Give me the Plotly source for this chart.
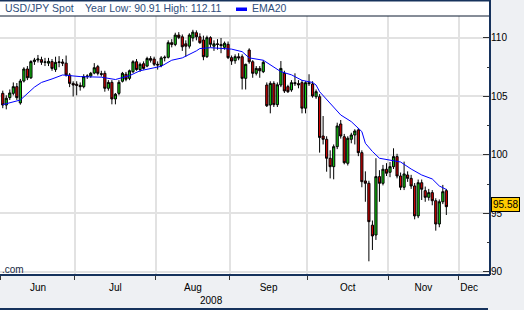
import plotly.graph_objects as go
import pandas as pd

# ---------------- data ----------------
calendar = pd.bdate_range("2008-06-02", "2008-12-31")   # weekday calendar

opens = [105.27, 104.27, 104.9, 105.27, 105.84, 104.45, 106.32, 107.35, 106.6, 107.98,
         108.12, 108.15, 107.92, 107.85, 107.98, 107.3, 107.9, 107.95, 107.85, 106.84,
         106.12, 106.05, 105.95, 105.84, 106.7, 106.75, 107.0, 107.55, 106.95, 106.98,
         105.7, 106.21, 104.79, 105.27, 106.3, 106.9, 106.55, 107.12, 107.97, 107.3,
         107.8, 107.6, 108.25, 108.2, 107.75, 107.65, 108.3, 108.35, 109.6, 109.45,
         110.25, 110.1, 109.5, 109.3, 110.0, 110.45, 110.1, 109.83, 108.4, 110.03,
         109.3, 109.5, 109.45, 109.2, 109.46, 108.32, 108.06, 108.4, 108.4, 106.55,
         108.97, 107.97, 106.98, 107.4, 107.12, 105.98, 104.27, 106.12, 104.3, 105.98,
         106.98, 105.84, 105.56, 106.18, 106.1, 106.18, 104.0, 106.18, 106.07, 104.98,
         104.98, 101.62, 101.34, 99.72, 99.0, 100.71, 102.65, 101.56, 99.29, 101.34,
         101.71, 102.14, 100.2, 97.78, 97.58, 94.0, 93.16, 98.15, 97.58, 98.78,
         98.52, 99.0, 99.86, 98.2, 97.24, 98.29, 98.0, 97.35, 94.79, 97.63,
         96.95, 96.38, 96.78, 96.09, 94.1, 96.0, 96.95]
highs = [105.5, 105.1, 105.6, 106.2, 106.15, 106.5, 107.5, 107.6, 108.1, 108.3,
         108.55, 108.4, 108.3, 108.3, 108.2, 108.4, 108.45, 108.2, 108.5, 107.0,
         106.3, 106.3, 106.2, 106.9, 106.9, 107.1, 107.85, 107.7, 107.2, 107.2,
         106.4, 106.4, 105.3, 106.4, 107.1, 107.1, 107.3, 108.1, 108.2, 107.9,
         108.0, 108.4, 108.45, 108.4, 108.0, 108.45, 108.5, 109.8, 109.9, 110.45,
         110.5, 110.3, 109.8, 110.4, 110.7, 110.65, 110.4, 110.2, 110.2, 110.15,
         109.8, 109.9, 110.0, 109.7, 109.7, 108.5, 108.6, 108.7, 108.6, 107.8,
         109.12, 108.1, 107.6, 107.6, 108.1, 106.2, 106.3, 106.3, 106.2, 108.03,
         107.2, 106.0, 106.4, 106.98, 106.4, 106.4, 106.3, 106.9, 106.3, 105.6,
         105.2, 103.33, 101.6, 100.4, 100.9, 102.76, 102.99, 101.8, 101.6, 101.9,
         102.2, 102.3, 100.4, 98.6, 97.8, 94.4, 99.72, 98.7, 99.15, 99.3,
         99.4, 100.57, 100.1, 98.5, 99.43, 98.6, 98.3, 97.6, 97.9, 97.9,
         97.3, 97.1, 97.0, 96.3, 96.2, 97.44, 97.1]
lows = [104.0, 103.9, 104.7, 105.1, 104.7, 104.3, 106.2, 106.4, 106.5, 107.7,
        107.9, 107.7, 107.6, 107.6, 107.2, 107.1, 107.5, 107.6, 106.7, 105.8,
        105.0, 105.1, 105.5, 105.7, 106.5, 106.6, 106.9, 106.8, 106.7, 105.41,
        105.5, 104.33, 104.33, 105.1, 106.2, 106.3, 106.4, 107.0, 107.2, 107.1,
        107.3, 107.5, 107.9, 107.6, 107.3, 107.5, 108.0, 108.25, 109.2, 109.3,
        109.9, 108.9, 108.4, 109.1, 109.7, 109.8, 109.5, 108.1, 108.3, 109.2,
        108.9, 109.0, 108.7, 109.0, 108.2, 107.7, 107.8, 108.1, 105.6, 105.6,
        107.8, 106.6, 106.8, 106.6, 107.0, 104.1, 103.56, 104.1, 104.1, 105.8,
        105.3, 105.3, 105.4, 105.9, 105.7, 103.56, 103.56, 105.9, 104.9, 104.8,
        100.2, 100.9, 98.57, 98.0, 97.92, 100.5, 101.4, 99.2, 99.1, 101.0,
        100.9, 99.9, 97.24, 96.0, 90.91, 91.88, 92.74, 96.0, 97.4, 98.2,
        98.1, 98.8, 98.0, 97.0, 97.0, 97.7, 97.1, 94.5, 94.6, 96.15,
        96.0, 96.1, 95.7, 93.53, 93.82, 95.8, 94.87]
closes = [104.27, 104.85, 105.3, 105.84, 104.9, 106.32, 107.35, 106.6, 107.98, 108.12,
          108.2, 107.92, 107.95, 108.0, 107.4, 107.92, 107.95, 107.85, 106.84, 106.12,
          105.98, 105.95, 105.84, 106.7, 106.75, 106.98, 107.46, 106.98, 106.9, 105.7,
          106.2, 104.79, 105.19, 106.21, 106.98, 106.47, 107.2, 107.97, 107.3, 107.75,
          107.4, 108.25, 108.1, 107.75, 107.7, 108.3, 108.35, 109.6, 109.45, 110.25,
          110.05, 109.25, 109.3, 110.25, 110.5, 110.1, 109.6, 108.4, 110.03, 109.46,
          109.5, 109.45, 109.35, 109.55, 108.32, 108.03, 108.4, 108.3, 106.55, 107.75,
          107.97, 106.98, 107.4, 107.2, 107.92, 104.21, 106.12, 104.3, 106.0, 107.4,
          105.47, 105.41, 106.18, 106.1, 106.0, 104.0, 106.18, 106.1, 105.04, 105.41,
          101.5, 101.34, 99.72, 99.0, 100.71, 102.48, 101.62, 99.34, 101.43, 101.71,
          102.05, 100.2, 97.72, 97.58, 94.3, 93.08, 98.15, 97.58, 98.78, 98.44,
          99.0, 99.86, 98.2, 97.24, 98.38, 98.0, 97.35, 94.79, 97.63, 97.07,
          96.38, 96.78, 96.09, 94.1, 96.0, 96.86, 95.58]

# EMA20 line at selected candles (candle index -> value)
ema_index = [0, 5, 9, 11, 14, 17, 22, 28, 32, 36, 39, 45, 48, 51, 55, 56, 59, 65, 68,
             70, 74, 76, 79, 82, 85, 88, 89, 90, 93, 96, 99, 102, 103, 105, 107, 110,
             113, 116, 119, 122, 124, 126]
ema_values = [104.3, 104.7, 105.8, 106.2, 106.5, 106.84, 106.7, 106.65, 106.45, 106.78,
              107.2, 107.58, 108.1, 108.3, 108.9, 109.1, 109.17, 109.05, 108.83, 108.3,
              108.1, 107.7, 107.12, 106.85, 106.38, 106.2, 105.98, 105.41, 104.4, 103.42,
              102.85, 102.0, 101.0, 100.3, 99.72, 99.57, 99.4, 98.8, 98.29, 97.95,
              97.35, 97.05]

month_names = ["Jun", "Jul", "Aug", "Sep", "Oct", "Nov", "Dec"]
year_label = "2008"
year_high = 112.11
last_price = closes[-1]

# ---------------- derived positions ----------------
n = len(closes)
dates = list(calendar[:n])
xi = list(range(n))
cal_months = [d.month for d in calendar]
month_first = [cal_months.index(m) for m in range(6, 13)]
boundaries = [b - 0.5 for b in month_first]
x_range = [-0.78, 138.4]
label_pos = []
for k, b in enumerate(boundaries):
    nxt = boundaries[k + 1] if k + 1 < len(boundaries) else x_range[1] - 3
    label_pos.append((max(b, x_range[0]) + nxt) / 2)

ema_x = [xi[i] for i in ema_index]

W, H = 524, 310
ML, MR, MT, MB = 0, 34, 16, 35
PW, PH = W - ML - MR, H - MT - MB

def py(px_from_top):
    """paper y for a pixel row measured from figure top"""
    return 1 - (px_from_top - MT) / PH

def pxx(px):
    return (px - ML) / PW

fig = go.Figure()

fig.add_trace(go.Candlestick(
    x=xi, open=opens, high=highs, low=lows, close=closes,
    increasing=dict(fillcolor="#10c810", line=dict(color="#000000", width=1)),
    decreasing=dict(fillcolor="#d20000", line=dict(color="#000000", width=1)),
    whiskerwidth=0, showlegend=False, hoverinfo="skip",
    text=[d.strftime("%Y-%m-%d") for d in dates],
))

fig.add_trace(go.Scatter(
    x=ema_x, y=ema_values, mode="lines",
    line=dict(color="#0000ff", width=1), showlegend=False, hoverinfo="skip",
))

navy = "#16325c"
shapes = [
    dict(type="rect", xref="paper", yref="paper", x0=0, x1=1, y0=1, y1=py(0),
         fillcolor="white", line=dict(width=0), layer="below"),
    dict(type="line", xref="paper", yref="paper", x0=0, x1=1, y0=py(0.5), y1=py(0.5),
         line=dict(color=navy, width=2)),
    dict(type="line", xref="paper", yref="paper", x0=0, x1=1, y0=1, y1=1,
         line=dict(color="#0d1a30", width=1)),
    dict(type="line", xref="paper", yref="paper", x0=1, x1=1, y0=0, y1=py(0),
         line=dict(color=navy, width=2)),
    dict(type="line", xref="paper", yref="paper", x0=0, x1=1, y0=0, y1=0,
         line=dict(color=navy, width=2)),
    dict(type="line", xref="paper", yref="paper", x0=0, x1=pxx(488), y0=py(309), y1=py(309),
         line=dict(color=navy, width=2)),
    dict(type="rect", xref="paper", yref="paper", x0=pxx(236), x1=pxx(247),
         y0=py(11), y1=py(7.5), fillcolor="#0000ff", line=dict(width=0)),
]

hdr_font = dict(family="Liberation Sans, Arial, sans-serif", size=10.5, color="#2e4d7b")
annotations = [
    dict(text="USD/JPY Spot", xref="paper", yref="paper", x=pxx(2.5), y=py(8.5),
         xanchor="left", yanchor="middle", showarrow=False, font=hdr_font),
    dict(text="Year Low: %.2f High: %.2f" % (min(lows), year_high), xref="paper", yref="paper",
         x=pxx(82.5), y=py(8.5), xanchor="left", yanchor="middle", showarrow=False, font=hdr_font),
    dict(text="EMA20", xref="paper", yref="paper", x=pxx(250), y=py(8.5),
         xanchor="left", yanchor="middle", showarrow=False, font=hdr_font),
    dict(text="%.2f" % last_price, xref="paper", yref="y", x=1.0, y=last_price,
         xanchor="left", yanchor="middle", showarrow=False,
         font=dict(family="Liberation Sans, Arial, sans-serif", size=10, color="#000000"),
         bgcolor="#ffcc00", bordercolor="#000000", borderwidth=1, borderpad=1, xshift=1, yshift=2),
    dict(text=year_label, xref="paper", yref="paper", x=pxx(211), y=py(300.5),
         xanchor="center", yanchor="middle", showarrow=False,
         font=dict(family="Liberation Sans, Arial, sans-serif", size=10, color="#000000")),
    dict(text=".com", xref="paper", yref="paper", x=0, y=py(269.5),
         xanchor="left", yanchor="middle", showarrow=False,
         font=dict(family="Liberation Sans, Arial, sans-serif", size=10, color="#1a2a44")),
]

fig.update_layout(
    width=W, height=H,
    margin=dict(l=ML, r=MR, t=MT, b=MB, pad=0),
    paper_bgcolor="#eef0f3", plot_bgcolor="#ffffff",
    shapes=shapes, annotations=annotations,
    showlegend=False, boxgap=0.12,
    font=dict(family="Liberation Sans, Arial, sans-serif", size=10, color="#000000"),
    xaxis=dict(
        type="linear", range=x_range, rangeslider=dict(visible=False),
        tickmode="array", tickvals=label_pos, ticktext=month_names,
        ticks="", showgrid=False, zeroline=False, showline=False,
        ticklabelstandoff=5,
        tickfont=dict(family="Liberation Sans, Arial, sans-serif", size=10, color="#000000"),
        minor=dict(tickmode="array", tickvals=boundaries, ticks="outside", ticklen=4,
                   tickcolor="#333333", tickwidth=1, showgrid=True,
                   gridcolor="#e2e2e2", gridwidth=2),
    ),
    yaxis=dict(
        side="right", range=[89.74, 111.88],
        tickmode="array", tickvals=[90, 95, 100, 105, 110],
        ticks="inside", ticklen=7, tickcolor="#333333", tickwidth=1,
        showgrid=True, gridcolor="#e2e2e2", gridwidth=2, zeroline=False, showline=False,
        tickfont=dict(family="Liberation Sans, Arial, sans-serif", size=10, color="#000000"),
        minor=dict(tickmode="array", tickvals=[92.5, 97.5, 102.5, 107.5], ticks="inside",
                   ticklen=3, tickcolor="#333333", tickwidth=1, showgrid=False),
    ),
)

fig.write_html("out.html")
